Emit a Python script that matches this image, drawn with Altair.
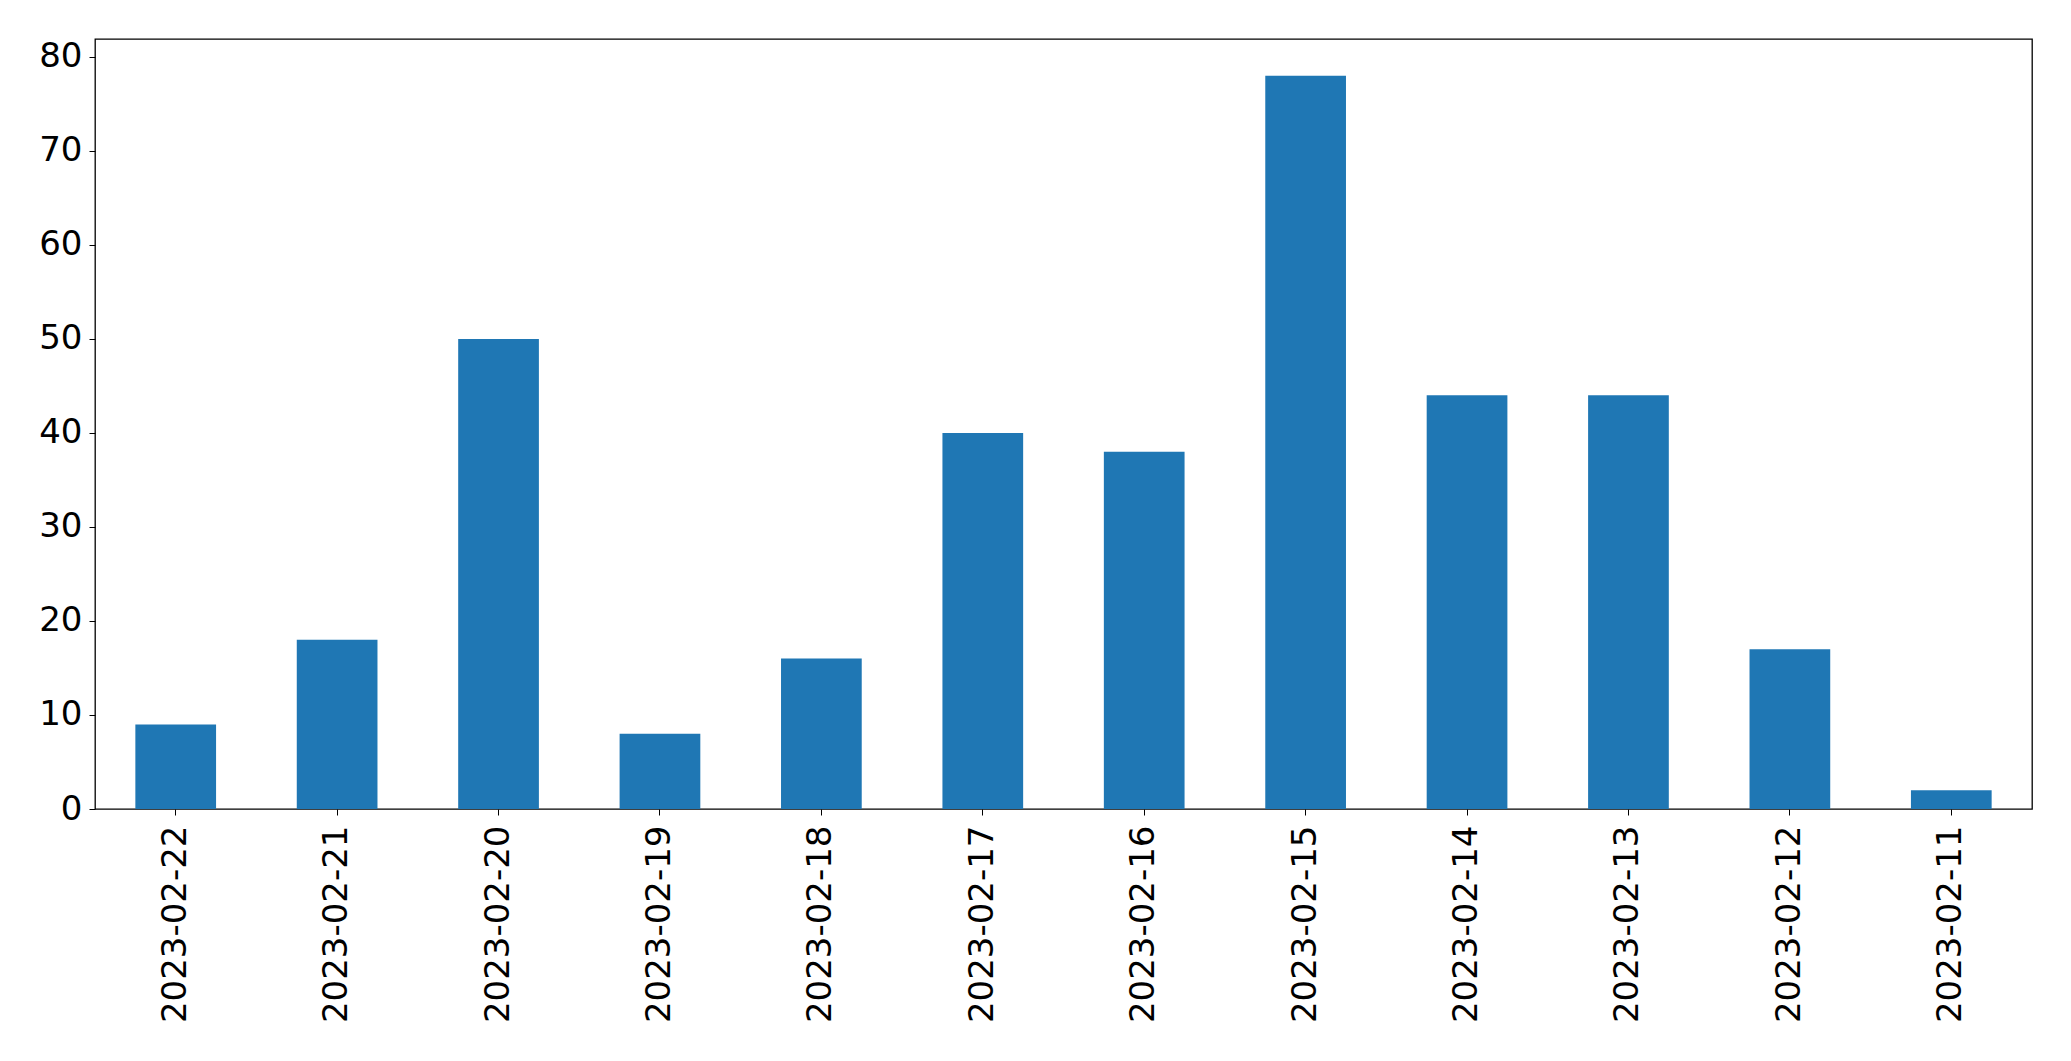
import altair as alt
import pandas as pd

dates = ["2023-02-22", "2023-02-21", "2023-02-20", "2023-02-19", "2023-02-18", "2023-02-17",
         "2023-02-16", "2023-02-15", "2023-02-14", "2023-02-13", "2023-02-12", "2023-02-11"]
counts = [9, 18, 50, 8, 16, 40, 38, 78, 44, 44, 17, 2]
y_ticks = [0, 10, 20, 30, 40, 50, 60, 70, 80]

df = pd.DataFrame({"date": dates, "count": counts})

FONT = "DejaVu Sans"

chart = alt.Chart(df).mark_bar(color="#1f77b4").encode(
    x=alt.X("date:N", sort=None, title=None,
            scale=alt.Scale(paddingInner=0.5, paddingOuter=0.25),
            axis=alt.Axis(labelAngle=270, labelFont=FONT, labelFontSize=34,
                          labelColor="black", tickColor="black", tickSize=6,
                          labelLimit=0, labelPadding=10, domain=False, grid=False)),
    y=alt.Y("count:Q", title=None,
            scale=alt.Scale(domain=[0, 81.9], nice=False, zero=True),
            axis=alt.Axis(values=y_ticks, labelFont=FONT, labelFontSize=34,
                          labelColor="black", tickColor="black", tickSize=6,
                          labelPadding=7, domain=False, grid=False)),
).properties(
    width=1937, height=770,
    autosize=alt.AutoSizeParams(type="none"),
    padding={"left": 87, "top": 31, "right": 30, "bottom": 240},
    background="white",
).configure_view(
    stroke="black", strokeWidth=1.3, strokeOpacity=1
)

chart.save("out.html", embed_options={"renderer": "svg", "actions": False})
